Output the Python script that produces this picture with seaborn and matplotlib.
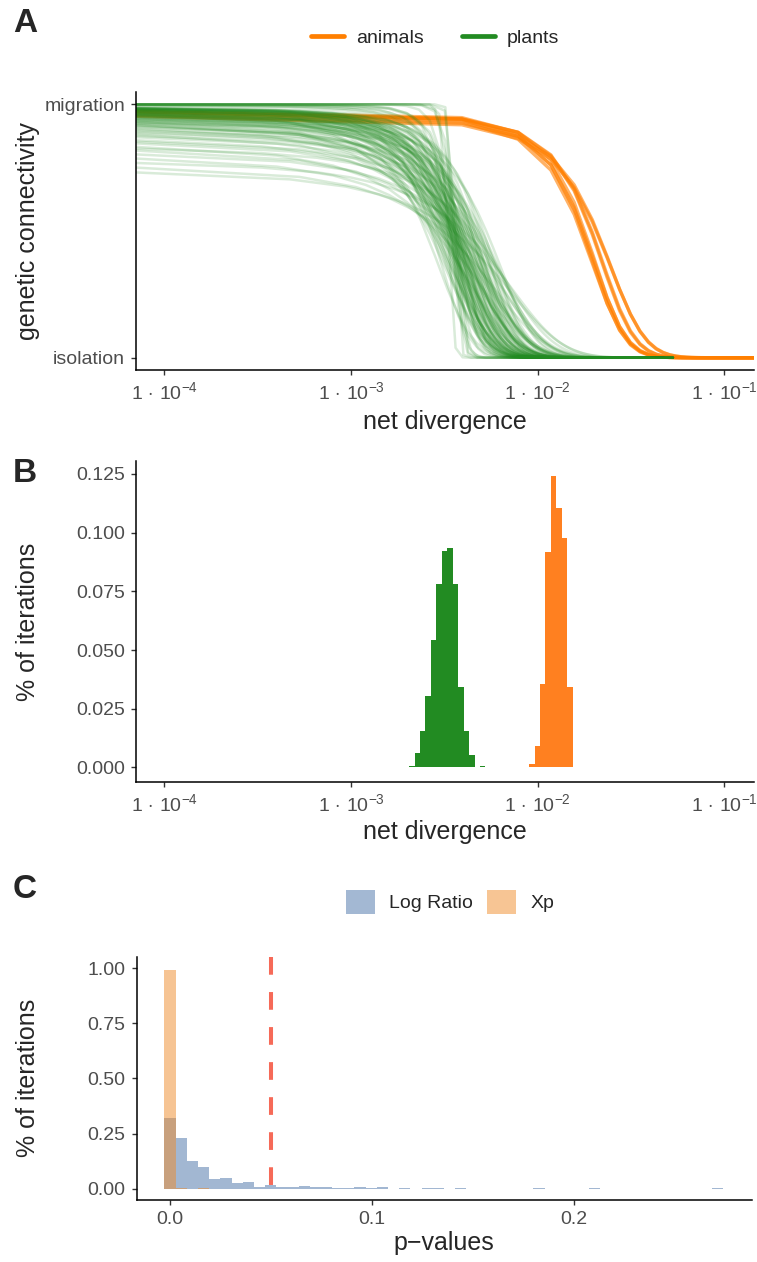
import numpy as np
import pandas as pd
import matplotlib
matplotlib.use("Agg")
import matplotlib.pyplot as plt
from matplotlib.lines import Line2D
from matplotlib.patches import Patch
from matplotlib.ticker import NullLocator
import seaborn as sns

sns.set_style("ticks")
plt.rcParams["font.family"] = ["Liberation Sans", "DejaVu Sans"]
plt.rcParams["mathtext.fontset"] = "custom"
plt.rcParams["mathtext.rm"] = "Liberation Sans"
plt.rcParams["mathtext.it"] = "Liberation Sans:italic"

# ---------------- data ----------------
# Panel A: fitted connectivity curves, conn = 1 / (1 + exp(c * (d / d50 - 1))),
# evaluated on an evenly spaced divergence grid starting at d = 0.
animal_intercept = [3.4, 3.6, 3.5, 3.7, 3.5, 3.5, 3.0, 3.1]
animal_midpoint = [0.0170, 0.0173, 0.0176, 0.0179, 0.0193, 0.0195, 0.0206, 0.0208]
animal_steps = [0.00392]
animal_npoints = 38

plant_intercept = [
    # near step-like fits
    12.0, 16.0, 20.0, 26.0, 32.0, 40.0,
    # steep fits
    5.0, 5.3, 5.6, 6.0, 6.4, 6.9, 7.4, 8.0,
    # bulk of the iterations
    2.40, 2.45, 2.50, 2.50, 2.55, 2.60, 2.60, 2.65, 2.70, 2.70,
    2.75, 2.80, 2.80, 2.85, 2.90, 2.90, 2.95, 3.00, 3.00, 3.05,
    3.05, 3.10, 3.10, 3.15, 3.15, 3.20, 3.20, 3.25, 3.25, 3.30,
    3.30, 3.35, 3.40, 3.40, 3.45, 3.50, 3.50, 3.55, 3.60, 3.60,
    3.65, 3.70, 3.70, 3.75, 3.80, 3.85, 3.90, 3.90, 3.95, 4.00,
    4.00, 4.05, 4.05, 4.10, 4.10, 4.15, 4.15, 4.20, 4.20, 4.20,
    # shallow fits
    1.00, 1.10, 1.20, 1.30, 1.40, 1.50, 1.55, 1.60, 1.70, 1.75,
    1.80, 1.90, 1.95, 2.00, 2.05, 2.10, 2.15, 2.20, 2.25, 2.30,
    2.35, 2.40,
]
plant_midpoint = [
    0.0034, 0.0036, 0.0035, 0.0037, 0.0033, 0.0036,
    0.0036, 0.0039, 0.0034, 0.0037, 0.0035, 0.0038, 0.0036, 0.0034,
    0.0036, 0.0028, 0.0043, 0.0033, 0.0050, 0.0026, 0.0038, 0.0031, 0.0046, 0.0035,
    0.0040, 0.0027, 0.0048, 0.0034, 0.0030, 0.0042, 0.0032, 0.0053, 0.0037, 0.0029,
    0.0035, 0.0044, 0.0031, 0.0039, 0.0025, 0.0036, 0.0047, 0.0033, 0.0041, 0.0030,
    0.0038, 0.0034, 0.0045, 0.0028, 0.0036, 0.0040, 0.0032, 0.0051, 0.0035, 0.0043,
    0.0029, 0.0037, 0.0033, 0.0044, 0.0036, 0.0031, 0.0039, 0.0049, 0.0034, 0.0038,
    0.0032, 0.0042, 0.0035, 0.0046, 0.0033, 0.0040, 0.0027, 0.0037, 0.0044, 0.0034,
    0.0035, 0.0031, 0.0040, 0.0029, 0.0038, 0.0033, 0.0044, 0.0028, 0.0036, 0.0042,
    0.0032, 0.0037, 0.0046, 0.0030, 0.0039, 0.0034, 0.0048, 0.0035, 0.0027, 0.0041,
    0.0036, 0.0031,
]
plant_steps = [3.3e-4, 4.0e-4, 4.7e-4, 5.3e-4]
plant_npoints = 101

# Panel B: share of iterations per log10(net divergence) bin (30 bins)
div_bin_start = -2.6893
div_bin_width = 0.02923
div_plants = [0.0007, 0.0061, 0.0155, 0.0304, 0.0543, 0.0781, 0.0922, 0.0935,
              0.0781, 0.0342, 0.0155, 0.0052, 0.0, 0.0007,
              0, 0, 0, 0, 0, 0, 0, 0,
              0, 0, 0, 0, 0, 0, 0, 0]
div_animals = [0, 0, 0, 0, 0, 0, 0, 0, 0, 0, 0, 0, 0, 0,
               0, 0, 0, 0, 0, 0, 0, 0,
               0.0014, 0.0092, 0.0356, 0.0918, 0.1242, 0.1105, 0.0978, 0.0342]

# Panel C: share of iterations per p-value bin (50 bins)
p_bin_width = 0.005535
p_log_ratio = [0.320, 0.230, 0.127, 0.098, 0.044, 0.048, 0.026, 0.030, 0.008, 0.017,
               0.008, 0.008, 0.012, 0.008, 0.008, 0.004, 0.004, 0.008, 0.004, 0.008,
               0.0, 0.004, 0.0, 0.004, 0.004, 0.0, 0.004, 0.0, 0.0, 0.0,
               0.0, 0.0, 0.0, 0.004, 0.0, 0.0, 0.0, 0.0, 0.004, 0.0,
               0.0, 0.0, 0.0, 0.0, 0.0, 0.0, 0.0, 0.0, 0.0, 0.004]
p_xp = [0.992, 0.004, 0.0, 0.004] + [0.0] * 46
p_threshold = 0.05

div_ticks = [1e-4, 1e-3, 1e-2, 1e-1]
div_ticklabels = [r"$1\,\cdot\,10^{-4}$", r"$1\,\cdot\,10^{-3}$",
                  r"$1\,\cdot\,10^{-2}$", r"$1\,\cdot\,10^{-1}$"]

# ---------------- style ----------------
ORANGE = "#FF7F00"
GREEN = "#228B22"
ORANGE_B = "#FF8020"
BLUE_C = "#4771A7"
ORANGE_C = "#EF8B29"
RED = "#F66A58"
TICK_GRAY = "#4D4D4D"
XMIN, XMAX = 10 ** -4.152, 10 ** -0.843

W, H = 757, 1262
fig = plt.figure(figsize=(W / 100, H / 100), dpi=100)


def box(l, t, r, b):
    return [l / W, 1 - b / H, (r - l) / W, (b - t) / H]


axA = fig.add_axes(box(136, 91.6, 753.7, 370.4))
axB = fig.add_axes(box(136, 461.3, 753.7, 782))
axC = fig.add_axes(box(136.5, 957, 751.7, 1199.7))


def style_axis(ax):
    sns.despine(ax=ax)
    for s in ("left", "bottom"):
        ax.spines[s].set_linewidth(1.1)
        ax.spines[s].set_color("black")
    ax.tick_params(axis="both", which="major", length=3.6, width=1.0, color="#333333",
                   labelcolor=TICK_GRAY, labelsize=14, pad=4.2)


def connectivity_frame(intercepts, midpoints, steps, npoints, group):
    parts = []
    for i, (c, m) in enumerate(zip(intercepts, midpoints)):
        step = steps[i % len(steps)]
        d = np.arange(npoints) * step
        conn = 0.5 * (1 - np.tanh(0.5 * c * (d / m - 1)))
        d_plot = d.copy()
        d_plot[0] = XMIN  # zero divergence sits on the left edge of the log axis
        parts.append(pd.DataFrame({"divergence": d_plot, "connectivity": conn,
                                   "curve": f"{group}{i}"}))
    return pd.concat(parts, ignore_index=True)


# ---------------- panel A ----------------
animals = connectivity_frame(animal_intercept, animal_midpoint, animal_steps, animal_npoints, "a")
plants = connectivity_frame(plant_intercept, plant_midpoint, plant_steps, plant_npoints, "p")

sns.lineplot(data=animals, x="divergence", y="connectivity", units="curve", estimator=None,
             sort=False, color=ORANGE, lw=2.4, alpha=0.6, ax=axA, legend=False)
sns.lineplot(data=plants, x="divergence", y="connectivity", units="curve", estimator=None,
             sort=False, color=GREEN, lw=1.8, alpha=0.17, ax=axA, legend=False)
axA.set_xscale("log")
axA.set_xlim(XMIN, XMAX)
axA.set_ylim(-0.05, 1.05)
axA.set_xticks(div_ticks)
axA.set_xticklabels(div_ticklabels)
axA.xaxis.set_minor_locator(NullLocator())
axA.set_yticks([0, 1])
axA.set_yticklabels(["isolation", "migration"])
axA.set_xlabel("")
axA.set_ylabel("")
style_axis(axA)

fig.legend(handles=[Line2D([0], [0], color=ORANGE, lw=3.4), Line2D([0], [0], color=GREEN, lw=3.4)],
           labels=["animals", "plants"], loc="center", bbox_to_anchor=(435 / W, 1 - 38 / H),
           ncol=2, frameon=False, fontsize=14, handlelength=1.7, handletextpad=0.62,
           columnspacing=1.96)

# ---------------- panel B ----------------
b_edges = div_bin_start + div_bin_width * np.arange(len(div_plants) + 1)
b_centers = b_edges[:-1] + div_bin_width / 2
for heights, col in ((div_plants, GREEN), (div_animals, ORANGE_B)):
    h = np.asarray(heights, dtype=float)
    keep = h > 0
    df_b = pd.DataFrame({"divergence": 10 ** b_centers[keep], "share": h[keep]})
    sns.histplot(data=df_b, x="divergence", weights="share", bins=list(b_edges), log_scale=True,
                 color=col, alpha=1, linewidth=0, ax=axB)
axB.set_xlim(XMIN, XMAX)
axB.set_ylim(-0.0062, 0.1304)
axB.set_xticks(div_ticks)
axB.set_xticklabels(div_ticklabels)
axB.xaxis.set_minor_locator(NullLocator())
axB.set_yticks([0, 0.025, 0.05, 0.075, 0.1, 0.125])
axB.set_yticklabels(["0.000", "0.025", "0.050", "0.075", "0.100", "0.125"])
axB.set_xlabel("")
axB.set_ylabel("")
style_axis(axB)

# ---------------- panel C ----------------
c_edges = p_bin_width * (np.arange(len(p_log_ratio) + 1) - 0.5)
c_centers = c_edges[:-1] + p_bin_width / 2
for heights, col in ((p_log_ratio, BLUE_C), (p_xp, ORANGE_C)):
    h = np.asarray(heights, dtype=float)
    keep = h > 0
    df_c = pd.DataFrame({"pvalue": c_centers[keep], "share": h[keep]})
    sns.histplot(data=df_c, x="pvalue", weights="share", bins=list(c_edges), color=col,
                 alpha=0.5, linewidth=0, ax=axC)
axC.plot([p_threshold, p_threshold], [1.05, -0.05], color=RED, lw=2.9,
         dashes=(4.4, 4.3), dash_capstyle="butt", solid_capstyle="butt")
axC.set_xlim(-0.0166, 0.288)
axC.set_ylim(-0.05, 1.05)
axC.set_xticks([0.0, 0.1, 0.2])
axC.set_xticklabels(["0.0", "0.1", "0.2"])
axC.set_yticks([0, 0.25, 0.5, 0.75, 1.0])
axC.set_yticklabels(["0.00", "0.25", "0.50", "0.75", "1.00"])
axC.set_xlabel("")
axC.set_ylabel("")
style_axis(axC)

BLUE_KEY = "#A3B8D3"
ORANGE_KEY = "#F7C594"
fig.legend(handles=[Patch(facecolor=BLUE_KEY, edgecolor="none"),
                    Patch(facecolor=ORANGE_KEY, edgecolor="none")],
           labels=["Log Ratio", "Xp"], loc="center", bbox_to_anchor=(450 / W, 1 - 902 / H),
           ncol=2, frameon=False, fontsize=14, handlelength=1.5, handleheight=1.5,
           handletextpad=0.7, columnspacing=0.75)

# ---------------- titles and panel tags ----------------
TITLE_SIZE = 18
fig.text(445 / W, 1 - 422 / H, "net divergence", ha="center", va="center", fontsize=TITLE_SIZE)
fig.text(445 / W, 1 - 832 / H, "net divergence", ha="center", va="center", fontsize=TITLE_SIZE)
fig.text(444 / W, 1 - 1243 / H, "p\u2212values", ha="center", va="center", fontsize=TITLE_SIZE)
fig.text(28 / W, 1 - 231 / H, "genetic connectivity", rotation=90, ha="center", va="center",
         fontsize=TITLE_SIZE)
fig.text(28 / W, 1 - 621.5 / H, "% of iterations", rotation=90, ha="center", va="center",
         fontsize=TITLE_SIZE)
fig.text(28 / W, 1 - 1078 / H, "% of iterations", rotation=90, ha="center", va="center",
         fontsize=TITLE_SIZE)
for tag, y in (("A", 23), ("B", 474), ("C", 890)):
    fig.text(13 / W, 1 - y / H, tag, ha="left", va="center", fontsize=24, fontweight="bold")

fig.savefig("out.png", dpi=100)
